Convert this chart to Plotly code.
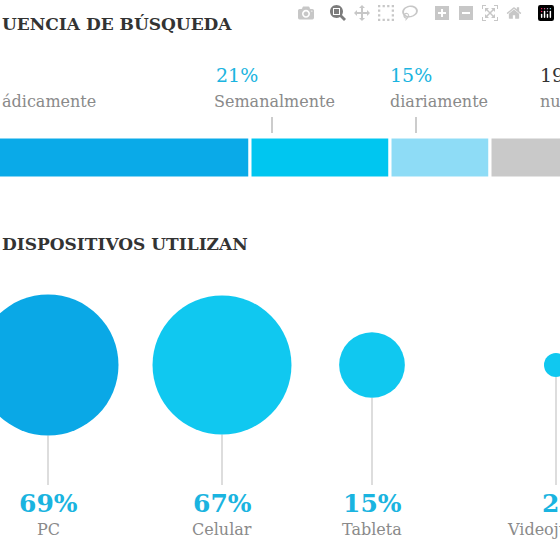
import plotly.graph_objects as go
import math

# Data
freq_labels = ["Periódicamente", "Semanalmente", "diariamente", "nunca"]
freq_values = [45, 21, 15, 19]
freq_colors = ["#0aaae8", "#00c6f0", "#8edcf6", "#c9c9c9"]

dev_labels = ["PC", "Celular", "Tableta", "Videojuegos"]
dev_values = [69, 67, 15, 2]
dev_colors = ["#0aa8e6", "#10c8f0", "#10c8f0", "#10c8f0"]

# Layout constants (pixels)
dev_x = [48, 222, 372, 556]
CY = 365
CYAN = "#1ab4e0"
GRAY = "#8a8a8a"
SERIF = "DejaVu Serif"

fig = go.Figure()
base = 0
for lab, v, c in zip(freq_labels, freq_values, freq_colors):
    fig.add_trace(go.Bar(x=[v], y=[157.5], base=[base], orientation="h", width=41,
                         marker=dict(color=c, line=dict(color="white", width=3)),
                         xaxis="x", yaxis="y", showlegend=False, hoverinfo="skip"))
    base += v

fig.add_trace(go.Scatter(x=dev_x, y=[CY]*4, mode="markers", xaxis="x2", yaxis="y",
                         marker=dict(size=dev_values, sizemode="area", opacity=1,
                                     sizeref=2*69/141**2, color=dev_colors, line=dict(width=0)),
                         showlegend=False, hoverinfo="skip"))

shapes = []
for x, v in zip(dev_x, dev_values):
    r = 141/2*math.sqrt(v/69)
    shapes.append(dict(type="line", xref="x2", yref="y", x0=x, x1=x, y0=CY+r, y1=485,
                       layer="below", line=dict(color="#bbbbbb", width=1)))
for x in [272, 416]:
    shapes.append(dict(type="line", xref="x2", yref="y", x0=x, x1=x, y0=117, y1=133,
                       line=dict(color="#999999", width=1)))

ann = []
def A(x, y, t, color, size, anchor="left", bold=False):
    ann.append(dict(x=x, y=y, xref="x2", yref="y", text=f"<b>{t}</b>" if bold else t,
                    showarrow=False, xanchor=anchor, yanchor="middle",
                    font=dict(family=SERIF, size=size, color=color)))

A(0, 24, "UENCIA DE BÚSQUEDA", "#333333", 17, bold=True)
A(0, 244, "DISPOSITIVOS UTILIZAN", "#333333", 17, bold=True)
A(0, 101, "ádicamente", GRAY, 16)
A(214, 75, "21%", CYAN, 19)
A(212, 101, "Semanalmente", GRAY, 16)
A(388, 75, "15%", CYAN, 19)
A(388, 101, "diariamente", GRAY, 16)
A(538, 75, "19", "#333333", 19)
A(538, 101, "nu", GRAY, 16)
pcts = ["69%", "67%", "15%", "2%"]
for x, p, l in zip(dev_x, pcts, dev_labels):
    A(min(x, 540), 503, p, CYAN, 25, anchor="center" if x < 540 else "left", bold=True)
    A(min(x, 505), 529, l, GRAY, 16, anchor="center" if x < 540 else "left")

fig.update_layout(
    width=560, height=560, margin=dict(l=0, r=0, t=0, b=0),
    paper_bgcolor="white", plot_bgcolor="white", barmode="overlay",
    xaxis=dict(range=[7.5, 91.5], visible=False, fixedrange=True),
    xaxis2=dict(range=[0, 560], overlaying="x", visible=False),
    yaxis=dict(range=[560, 0], visible=False),
    shapes=shapes, annotations=ann,
)
fig.write_html("out.html", post_script="document.body.style.margin='0';document.body.style.overflow='hidden';")
